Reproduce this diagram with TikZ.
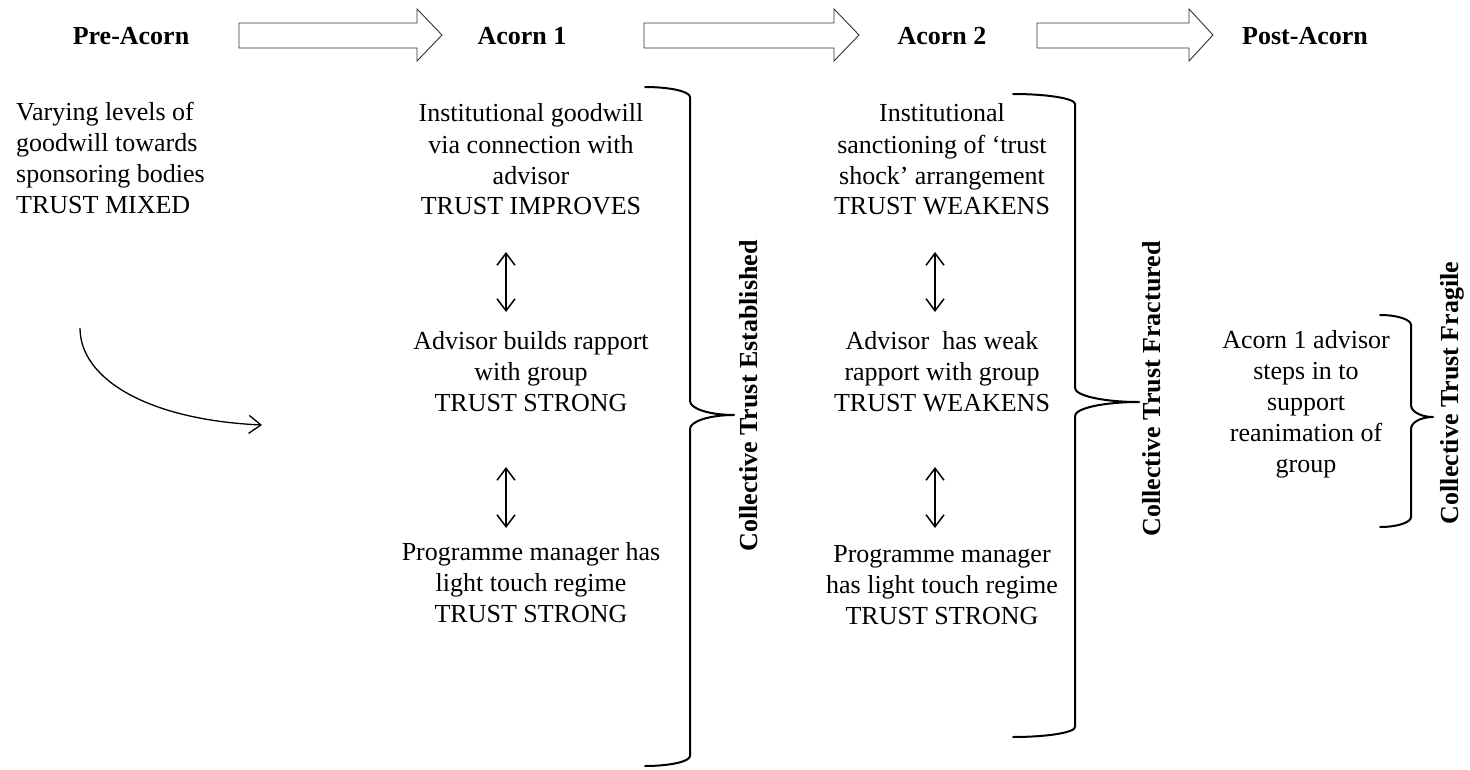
\documentclass[tikz,border=0pt]{standalone}
\usepackage{fontspec}
\setmainfont{Liberation Serif}
\usetikzlibrary{arrows.meta}
\tikzset{
  body/.style={font=\fontsize{26}{31}\selectfont, align=center, inner sep=0pt, anchor=base},
  head/.style={font=\fontsize{26}{31}\selectfont\bfseries, inner sep=0pt, anchor=base},
  vlabel/.style={font=\fontsize{26}{31}\selectfont\bfseries, inner sep=0pt, rotate=90},
  blockarrow/.style={draw=black!80, line width=0.9pt, fill=white},
  dblarrow/.style={line width=1.5pt, {Straight Barb[length=12pt,width=18pt,line width=1.5pt]}-{Straight Barb[length=12pt,width=18pt,line width=1.5pt]}},
  curvearrow/.style={line width=1.3pt, -{Straight Barb[length=12pt,width=18pt,line width=1.3pt]}},
  bracepath/.style={line width=2pt, line join=round, line cap=round}
}
\newcommand{\myrbrace}[8]{% L V T A B M r(corner) s(tip)
  \draw[bracepath] (#1,#4) .. controls ({#1+0.552*(#2-#1)},#4) and (#2,{#4+#7-0.552*#7}) .. (#2,{#4+#7})
    -- (#2,{#6-#8}) .. controls (#2,{#6-#8+0.552*#8}) and ({#3-0.552*(#3-#2)},#6) .. (#3,#6)
    .. controls ({#3-0.552*(#3-#2)},#6) and (#2,{#6+#8-0.552*#8}) .. (#2,{#6+#8})
    -- (#2,{#5-#7}) .. controls (#2,{#5-#7+0.552*#7}) and ({#1+0.552*(#2-#1)},#5) .. (#1,#5);
}
\begin{document}
\begin{tikzpicture}[x=1pt,y=-1pt]
\useasboundingbox (0,0) rectangle (1470,770);

% header
\node[head] (h0) at (131,45) {Pre-Acorn};
\node[head] (h1) at (522,45) {Acorn 1};
\node[head] (h2) at (942,45) {Acorn 2};
\node[head] (h3) at (1305,45) {Post-Acorn};

\draw[blockarrow] (239,23) -- (417,23) -- (417,9) -- (442,35) -- (417,61) -- (417,48) -- (239,48) -- cycle;
\draw[blockarrow] (644,23) -- (834,23) -- (834,9) -- (859,35) -- (834,61) -- (834,48) -- (644,48) -- cycle;
\draw[blockarrow] (1037,23) -- (1189,23) -- (1189,9) -- (1213,35) -- (1189,61) -- (1189,48) -- (1037,48) -- cycle;

% pre-acorn (anchor = baseline of last line)
\node[body, anchor=base west, align=left] (pre) at (16,214) {Varying levels of\\goodwill towards\\sponsoring bodies\\TRUST MIXED};
\coordinate (cs) at (80,328);
\coordinate (ce) at (262,425);
\draw[curvearrow] (cs) .. controls (80,380) and (150,420) .. (ce);

% acorn 1
\node[body] (a1) at (531,215) {Institutional goodwill\\via connection with\\advisor\\TRUST IMPROVES};
\node[body] (b1) at (531,411) {Advisor builds rapport\\with group\\TRUST STRONG};
\node[body] (c1) at (531,622) {Programme manager has\\light touch regime\\TRUST STRONG};
\coordinate (d1t) at (506,252);
\coordinate (d1b) at (506,312);
\coordinate (e1t) at (506,467);
\coordinate (e1b) at (506,528);
\draw[dblarrow] (d1t) -- (d1b);
\draw[dblarrow] (e1t) -- (e1b);
\myrbrace{645}{690}{734}{87}{766}{415}{10}{14}
\node[vlabel] (l1) at (749,396) {Collective Trust Established};

% acorn 2
\node[body] (a2) at (942,215) {Institutional\\sanctioning of ‘trust\\shock’ arrangement\\TRUST WEAKENS};
\node[body] (b2) at (942,411) {Advisor\ \ has weak\\rapport with group\\TRUST WEAKENS};
\node[body] (c2) at (942,624) {Programme manager\\has light touch regime\\TRUST STRONG};
\coordinate (d2t) at (935,252);
\coordinate (d2b) at (935,312);
\coordinate (e2t) at (935,467);
\coordinate (e2b) at (935,528);
\draw[dblarrow] (d2t) -- (d2b);
\draw[dblarrow] (e2t) -- (e2b);
\myrbrace{1013}{1075}{1139}{94}{737}{402}{10}{14}
\node[vlabel] (l2) at (1152,389) {Collective Trust Fractured};

% post acorn
\node[body] (p) at (1306,472) {Acorn 1 advisor\\steps in to\\support\\reanimation of\\group};
\myrbrace{1380}{1411}{1433}{315}{527}{417}{10}{12}
\node[vlabel] (l3) at (1452,393) {Collective Trust Fragile};
\end{tikzpicture}
\end{document}
